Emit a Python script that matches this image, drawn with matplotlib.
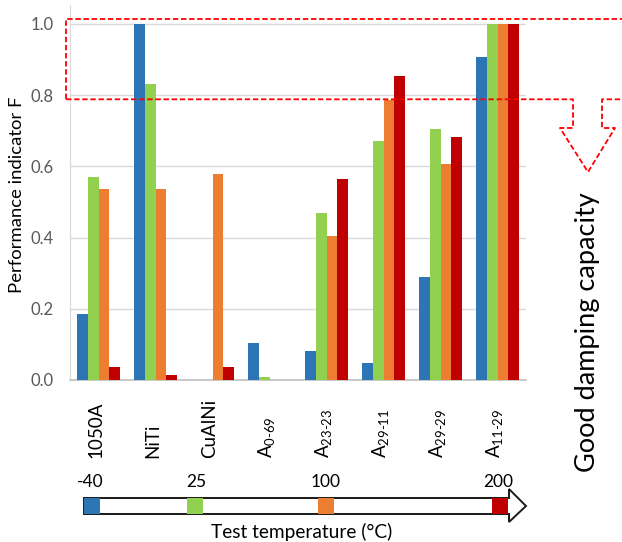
import matplotlib
matplotlib.use("Agg")
import matplotlib.pyplot as plt
from matplotlib.patches import Polygon, Rectangle
from matplotlib import transforms

plt.rcParams["font.family"] = ["Lato", "DejaVu Sans"]
plt.rcParams["mathtext.fontset"] = "custom"
plt.rcParams["mathtext.rm"] = "Lato"
plt.rcParams["mathtext.it"] = "Lato:italic"
plt.rcParams["mathtext.bf"] = "Lato:bold"

# Materials and performance indicator F at four test temperatures
materials = ["1050A", "NiTi", "CuAlNi",
             r"A$_{\text{0-69}}$", r"A$_{\text{23-23}}$", r"A$_{\text{29-11}}$",
             r"A$_{\text{29-29}}$", r"A$_{\text{11-29}}$"]
f_m40 = [0.185, 1.000, 0.000, 0.104, 0.081, 0.049, 0.290, 0.908]
f_25 = [0.571, 0.830, 0.000, 0.009, 0.470, 0.671, 0.705, 1.000]
f_100 = [0.537, 0.537, 0.579, 0.000, 0.405, 0.787, 0.607, 1.000]
f_200 = [0.036, 0.014, 0.036, 0.000, 0.565, 0.853, 0.683, 1.000]
temperatures = ["-40", "25", "100", "200"]
y_ticks = [0.0, 0.2, 0.4, 0.6, 0.8, 1.0]

colors = ["#2E75B6", "#92D050", "#ED7D31", "#C00000"]
series = [f_m40, f_25, f_100, f_200]

W, H = 622, 542
fig = plt.figure(figsize=(W / 100, H / 100), dpi=100)
fig.patch.set_facecolor("white")

ax = fig.add_axes([70 / W, (H - 380) / H, (526 - 70) / W, (380 - 5) / H])
n = len(materials)
bw = 0.186
x = list(range(n))
for k, (vals, c) in enumerate(zip(series, colors)):
    off = (k - 1.5) * bw
    ax.bar([xi + off for xi in x], vals, width=bw, color=c, zorder=3)

ax.set_xlim(-0.5, n - 0.5)
ax.set_ylim(0, 1.053)
ax.set_yticks(y_ticks)
ax.set_yticklabels([f"{v:.1f}" for v in y_ticks])
ax.tick_params(axis="y", length=0, pad=12, labelcolor="#595959", labelsize=12)
ax.set_xticks([])
ax.yaxis.grid(True, color="#D9D9D9", lw=1.0, zorder=0)
for s in ["top", "right"]:
    ax.spines[s].set_visible(False)
ax.spines["left"].set_color("#D9D9D9")
ax.spines["bottom"].set_color("#BFBFBF")
ax.spines["bottom"].set_linewidth(1.2)

# Overlay in pixel coordinates for annotations
ov = fig.add_axes([0, 0, 1, 1], zorder=5)
ov.set_xlim(0, W)
ov.set_ylim(H, 0)
ov.axis("off")
ov.patch.set_alpha(0)

# Category labels, rotated, starting below the axis
btf = transforms.blended_transform_factory(ax.transData, ov.transData)
for xi, lab in zip(x, materials):
    ov.text(xi - 0.05, 458, lab, rotation=90, ha="center", va="bottom",
            fontsize=13.5, color="black", transform=btf)

# Axis titles
ov.text(17, 195, "Performance indicator F", rotation=90, ha="center",
        va="center", fontsize=13.3, color="black")
ov.text(587, 332, "Good damping capacity", rotation=90, ha="center",
        va="center", fontsize=19.5, color="black")

# Dashed red zone with downward arrow
red = "#FF0000"
dash = dict(color=red, lw=1.3, ls=(0, (3, 1.5)))
ov.plot([66, 66, W], [99.3, 19, 19], **dash)
ov.plot([66, 573, 573, 560, 588, 615, 602, 602, W],
        [99.3, 99.3, 128, 128, 172, 128, 128, 99.3, 99.3], **dash)

# Temperature arrow
arrow = Polygon([(84, 498), (509, 498), (509, 489), (526, 506),
                 (509, 522), (509, 514), (84, 514)], closed=True,
                facecolor="white", edgecolor="#1a1a1a", lw=1.4, zorder=2)
ov.add_patch(arrow)
box_x = [84, 187, 318, 492]
lab_x = [90, 196, 326, 498]
for bx, lx, c, t in zip(box_x, lab_x, colors, temperatures):
    ov.add_patch(Rectangle((bx, 498), 16, 16, facecolor=c, edgecolor="none",
                           zorder=3))
    ov.text(lx, 482, t, ha="center", va="center", fontsize=12.5,
            color="black")
ov.text(302, 532, "Test temperature (°C)", ha="center", va="center",
        fontsize=13.8, color="black")

fig.savefig("out.png", dpi=100, facecolor="white")
